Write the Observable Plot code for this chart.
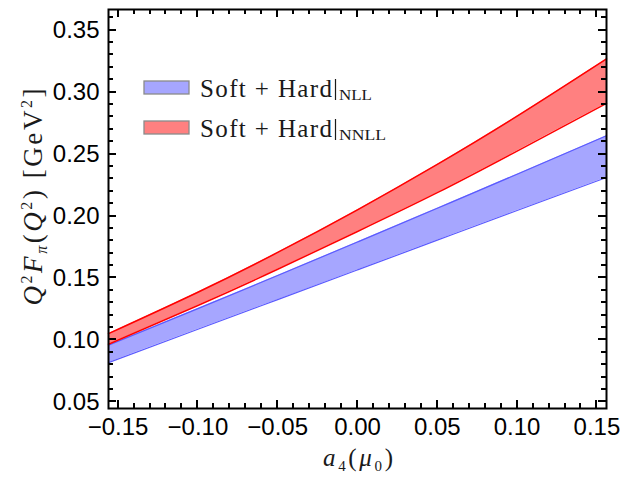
<!DOCTYPE html>
<html><head><meta charset="utf-8">
<script src="https://cdn.jsdelivr.net/npm/d3@7"></script>
<script src="https://cdn.jsdelivr.net/npm/@observablehq/plot@0.6"></script>
<style>body{margin:0;background:#fff} #chart{width:629px;height:482px}</style>
</head><body><div id="chart"></div>
<script>
// a4(mu0) sample points
const a4 = [-0.156, -0.10, -0.05, 0.00, 0.05, 0.10, 0.156];
// Soft + Hard | NLL band
const nllLow  = [0.0817, 0.1086, 0.1325, 0.1565, 0.1805, 0.2044, 0.2311];
const nllHigh = [0.0957, 0.1253, 0.1520, 0.1790, 0.2062, 0.2337, 0.2648];
// Soft + Hard | NNLL band
const nnllLow  = [0.0965, 0.1278, 0.1570, 0.1875, 0.2188, 0.2524, 0.2909];
const nnllHigh = [0.1051, 0.1385, 0.1706, 0.2050, 0.2416, 0.2805, 0.3267];

const xTicks = [-0.15, -0.10, -0.05, 0.00, 0.05, 0.10, 0.15];
const yTicks = [0.05, 0.10, 0.15, 0.20, 0.25, 0.30, 0.35];
const xMinor = d3.range(-15, 16).filter(i => i % 5 !== 0).map(i => i / 100);
const yMinor = d3.range(5, 37).filter(i => i % 5 !== 0).map(i => i / 100);

const rows = a4.map((x, i) => ({a4: x, nllLow: nllLow[i], nllHigh: nllHigh[i], nnllLow: nnllLow[i], nnllHigh: nnllHigh[i]}));

const W = 629, H = 482, mL = 108, mR = 23, mT = 9, mB = 74;
const xDom = [-0.156, 0.156], yDom = [0.0447, 0.3666];

const fmt = d3.format(".2f");
const blueFill = "#a6a6ff", blueLine = "#5a5aff", redFill = "#ff8080", redLine = "#ff0000";

const plot = Plot.plot({
  width: W, height: H,
  marginLeft: mL, marginRight: mR, marginTop: mT, marginBottom: mB,
  x: {domain: xDom},
  y: {domain: yDom},
  style: {fontFamily: "Liberation Sans", background: "white", color: "black"},
  marks: [
    Plot.areaY(rows, {x: "a4", y1: "nllLow", y2: "nllHigh", fill: blueFill, curve: "natural"}),
    Plot.line(rows, {x: "a4", y: "nllLow", stroke: blueLine, strokeWidth: 1.2, curve: "natural"}),
    Plot.line(rows, {x: "a4", y: "nllHigh", stroke: blueLine, strokeWidth: 1.2, curve: "natural"}),
    Plot.areaY(rows, {x: "a4", y1: "nnllLow", y2: "nnllHigh", fill: redFill, curve: "natural"}),
    Plot.line(rows, {x: "a4", y: "nnllLow", stroke: redLine, strokeWidth: 1.5, curve: "natural"}),
    Plot.line(rows, {x: "a4", y: "nnllHigh", stroke: redLine, strokeWidth: 1.5, curve: "natural"}),
    // tick labels
    Plot.axisX(xTicks, {anchor: "bottom", tickSize: 0, tickPadding: 9, tickFormat: fmt, fontSize: 24, label: null}),
    Plot.axisY(yTicks, {anchor: "left", tickSize: 0, tickPadding: 9, tickFormat: fmt, fontSize: 24, label: null}),
    Plot.frame({stroke: "black", strokeWidth: 2})
  ]
});

const svg = d3.select(plot);
const sx = plot.scale("x"), sy = plot.scale("y");
const X = v => Math.round(sx.apply(v)), Y = v => Math.round(sy.apply(v));
const fLeft = mL, fRight = W - mR, fTop = mT, fBottom = H - mB;

// inward frame ticks positioned through Plot's scales
const tg = svg.append("g").attr("stroke", "black").attr("stroke-width", 2).attr("shape-rendering", "crispEdges");
const addX = (vals, len) => vals.forEach(v => {
  tg.append("line").attr("x1", X(v)).attr("x2", X(v)).attr("y1", fBottom).attr("y2", fBottom - len);
  tg.append("line").attr("x1", X(v)).attr("x2", X(v)).attr("y1", fTop).attr("y2", fTop + len);
});
const addY = (vals, len) => vals.forEach(v => {
  tg.append("line").attr("y1", Y(v)).attr("y2", Y(v)).attr("x1", fLeft).attr("x2", fLeft + len);
  tg.append("line").attr("y1", Y(v)).attr("y2", Y(v)).attr("x1", fRight).attr("x2", fRight - len);
});
addX(xTicks, 8); addX(xMinor, 5); addY(yTicks, 8); addY(yMinor, 5);

const serif = "Liberation Serif";
const ink = "#1a1a1a";

// y label
const yl = svg.append("text")
  .attr("transform", "translate(42,197) rotate(-90)")
  .attr("text-anchor", "middle").attr("font-family", serif).attr("font-size", 26)
  .attr("fill", ink).attr("textLength", 217).attr("lengthAdjust", "spacing");
const ySeq = [["Q", "i", 0, 27], ["2", "n", -10, 16], ["F", "i", 10, 27], ["π", "i", 5, 16], ["(", "n", -5, 27],
  ["Q", "i", 0, 27], ["2", "n", -10, 16], [")", "n", 10, 27], [" [GeV", "n", 0, 27], ["2", "n", -10, 16], ["]", "n", 10, 27]];
ySeq.forEach(([t, s, dy, fs]) => yl.append("tspan").attr("dy", dy).attr("font-size", fs)
  .attr("font-style", s === "i" ? "italic" : "normal").text(t));

// x label
const xl = svg.append("text")
  .attr("x", 358).attr("y", 466).attr("text-anchor", "middle")
  .attr("font-family", serif).attr("font-size", 24).attr("fill", ink)
  .attr("textLength", 70).attr("lengthAdjust", "spacing");
const xSeq = [["a", "i", 0, 25], ["4", "n", 5, 15], ["(", "n", -5, 25], ["μ", "i", 0, 25], ["0", "n", 5, 15], [")", "n", -5, 25]];
xSeq.forEach(([t, s, dy, fs]) => xl.append("tspan").attr("dy", dy).attr("font-size", fs)
  .attr("font-style", s === "i" ? "italic" : "normal").text(t));

// legend
const legend = [
  {fill: blueFill, sub: "NLL", y: 81, subLen: 33},
  {fill: redFill, sub: "NNLL", y: 121, subLen: 47}
];
legend.forEach(d => {
  svg.append("rect").attr("x", 144).attr("y", d.y).attr("width", 45).attr("height", 13)
    .attr("fill", d.fill).attr("stroke", "#8a8a8a").attr("stroke-width", 1.3);
  svg.append("text").attr("x", 200).attr("y", d.y + 16).attr("text-anchor", "start").attr("font-family", serif)
    .attr("font-size", 25).attr("fill", ink).attr("textLength", 132).attr("lengthAdjust", "spacing")
    .text("Soft + Hard");
  svg.append("line").attr("x1", 335.5).attr("x2", 335.5).attr("y1", d.y - 2).attr("y2", d.y + 19)
    .attr("stroke", ink).attr("stroke-width", 1.2);
  svg.append("text").attr("x", 339).attr("y", d.y + 19).attr("text-anchor", "start").attr("font-family", serif)
    .attr("font-size", 15).attr("fill", ink).attr("textLength", d.subLen).attr("lengthAdjust", "spacingAndGlyphs")
    .text(d.sub);
});

document.getElementById("chart").appendChild(plot);
</script>
</body></html>
